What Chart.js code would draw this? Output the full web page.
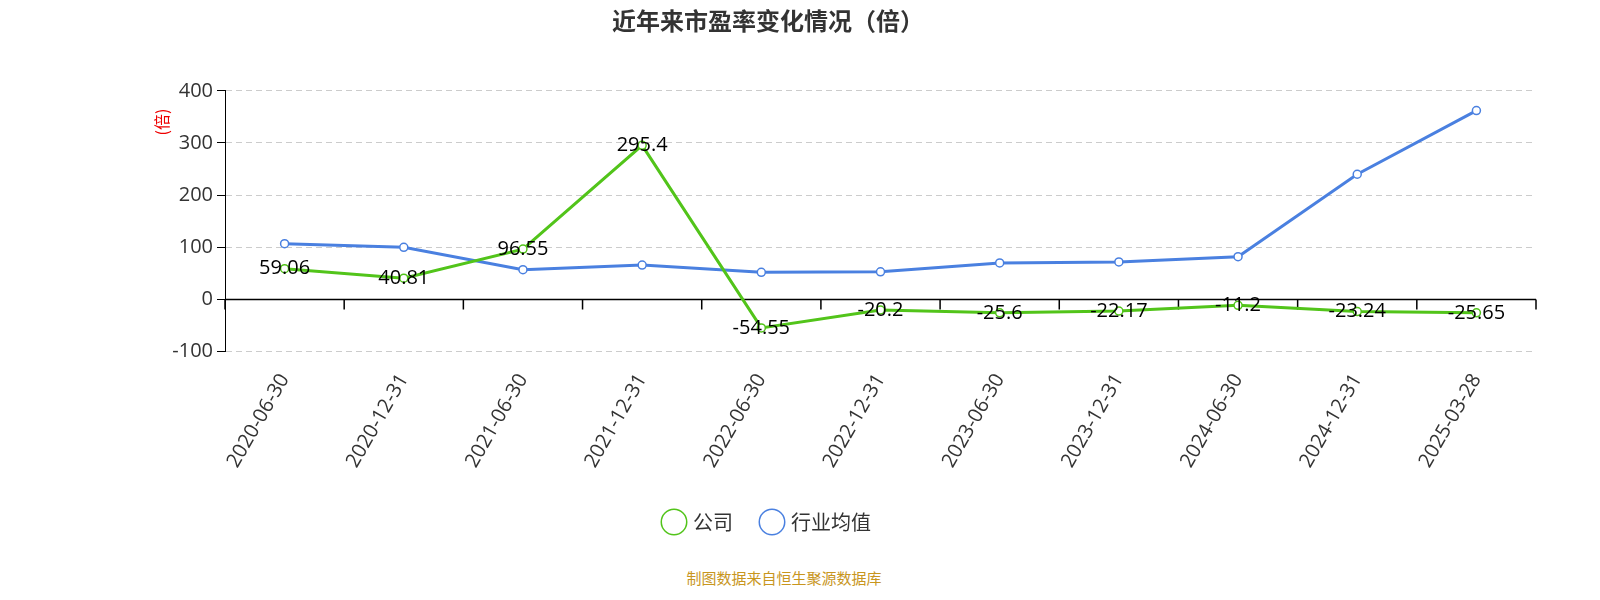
<!DOCTYPE html><html><head><meta charset="utf-8">
<script src="https://cdn.jsdelivr.net/npm/chart.js@4/dist/chart.umd.min.js"></script>
<style>body{margin:0;background:#fff}#w{width:1600px;height:600px;position:relative}
#src{position:absolute;top:567px;width:1568px;text-align:center;font:15px "Noto Sans CJK SC";color:#c8961e}</style>
</head><body><div id="w"><canvas id="c" width="1568" height="560"></canvas><div id="src">制图数据来自恒生聚源数据库</div></div>
<script>
const categories=["2020-06-30","2020-12-31","2021-06-30","2021-12-31","2022-06-30","2022-12-31","2023-06-30","2023-12-31","2024-06-30","2024-12-31","2025-03-28"];
const company=[59.06,40.81,96.55,295.4,-54.55,-20.2,-25.6,-22.17,-11.2,-23.24,-25.65];
const industry=[107,100,57,66,52,53,70,72,82,240,362];
const yTicks=[-100,0,100,200,300,400];
const F='"Noto Sans CJK SC", "Open Sans", sans-serif';
const O='"Open Sans", sans-serif';
const deco={id:'deco',
 beforeDatasetsDraw(ch){const c=ch.ctx,x=ch.scales.x,y=ch.scales.y,y0=y.getPixelForValue(0);
  c.save();c.strokeStyle='#000';c.lineWidth=1.5;c.beginPath();c.moveTo(ch.chartArea.left,y0);c.lineTo(ch.chartArea.right,y0);
  const n=categories.length,w=(ch.chartArea.right-ch.chartArea.left)/n;
  for(let i=0;i<=n;i++){const px=ch.chartArea.left+i*w;c.moveTo(px,y0);c.lineTo(px,y0+10);}
  c.stroke();
  c.translate(162,122);c.rotate(-Math.PI/2);c.fillStyle='#e00';c.font='16px '+F;c.textAlign='center';c.textBaseline='middle';c.fillText('(倍)',0,0);c.restore();},
 afterDatasetsDraw(ch){const c=ch.ctx;const m=ch.getDatasetMeta(0);c.save();c.font='20px '+O;c.fillStyle='#000';c.textAlign='center';c.textBaseline='middle';
  m.data.forEach((p,i)=>c.fillText(String(company[i]),p.x,p.y));c.restore();}};
new Chart(document.getElementById('c'),{type:'line',
 data:{labels:categories,datasets:[
  {label:'公司',data:company,borderColor:'#52c41a',backgroundColor:'#fff',borderWidth:3,pointRadius:4,pointBorderWidth:1.5,tension:0},
  {label:'行业均值',data:industry,borderColor:'#4a80e0',backgroundColor:'#fff',borderWidth:3,pointRadius:4,pointBorderWidth:1.5,tension:0}]},
 options:{responsive:false,animation:false,
  layout:{padding:{left:0,right:32,top:0,bottom:18}},
  plugins:{title:{display:true,text:'近年来市盈率变化情况（倍）',font:{family:F,size:24,weight:'bold'},color:'#333',padding:{top:6,bottom:56}},
   legend:{position:'bottom',labels:{usePointStyle:true,pointStyle:'circle',boxWidth:18,boxHeight:18,font:{family:F,size:20},color:'#333',padding:30}},tooltip:{enabled:false}},
  scales:{x:{offset:true,grid:{display:false},border:{display:false},ticks:{font:{family:O,size:20},color:'#333',minRotation:60,maxRotation:60,padding:10}},
   y:{min:-100,max:400,afterBuildTicks:a=>{a.ticks=yTicks.map(v=>({value:v}))},afterFit:a=>{a.width=225},
    grid:{color:'#ccc',drawTicks:true,tickLength:8,tickColor:'#000'},border:{display:true,color:'#000',dash:[6,4]},
    ticks:{font:{family:O,size:20},color:'#333',padding:4}}}},
 plugins:[deco]});
</script></body></html>
